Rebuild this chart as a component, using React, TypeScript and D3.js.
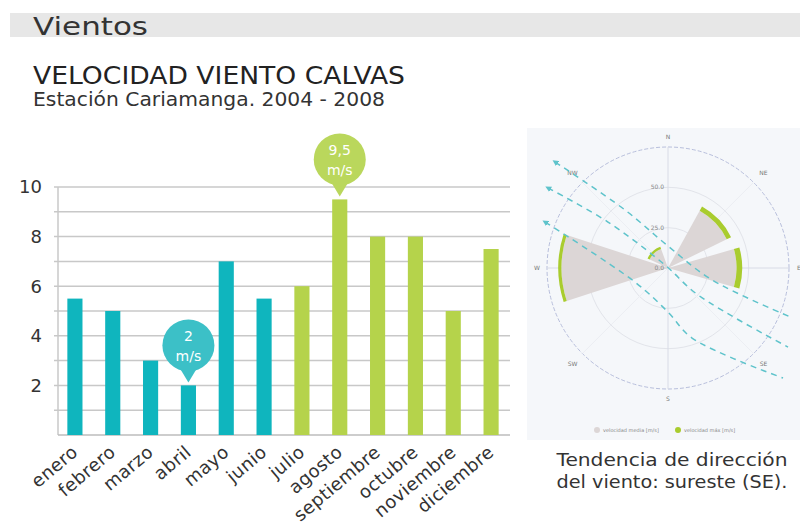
import React from "react";
import * as d3 from "d3";

// monthly mean wind speed, Calvas (Cariamanga station) 2004-2008
const months = [
  "enero", "febrero", "marzo", "abril", "mayo", "junio",
  "julio", "agosto", "septiembre", "octubre", "noviembre", "diciembre",
];
const speeds = [5.5, 5, 3, 2, 7, 5.5, 6, 9.5, 8, 8, 5, 7.5];
const yTicks = [2, 4, 6, 8, 10];
const gridValues = [1, 2, 3, 4, 5, 6, 7, 8, 9, 10];
const callouts = [
  { month: "abril", label: ["2", "m/s"] },
  { month: "agosto", label: ["9,5", "m/s"] },
];

// wind rose sectors: compass start/end (deg), calm part and max part
const roseStart = [252, 29, 74, 295];
const roseEnd = [288, 64, 106, 340];
const roseCalm = [66, 40.5, 42.5, 12.5];
const roseMax = [68, 43.5, 46, 14];
const roseRings = [25, 50, 75];
const roseRingLabels = ["0.0", "25.0", "50.0"];
const roseDirLabels = ["N", "NE", "E", "SE", "S", "SW", "W", "NW"];
// dashed trend arrows, points in rose units [east, north]
const trendLines = [
  [[-70, 65.7], [-26.7, 36], [0, 13.6], [27.3, -7.4], [77.5, -31]],
  [[-74.4, 49.6], [-37.2, 28.5], [-1.9, 1.9], [18.6, -16.7], [74.4, -49]],
  [[-76.2, 28.5], [-20.5, -8.7], [0, -27.3], [14.9, -43.4], [71.3, -68.2]],
];

const FONT = "'DejaVu Sans', sans-serif";
const TEAL = "#0fb5be";
const GREEN = "#b5d34b";

export default function App() {
  const width = 800;
  const height = 530;

  const x = d3.scaleBand<string>().domain(months).range([56, 510]).paddingInner(0.6).paddingOuter(0.3);
  const y = d3.scaleLinear().domain([0, 10]).range([435, 187]);

  // rose
  const cx = 668;
  const cy = 268;
  const r = d3.scaleLinear().domain([0, 75]).range([0, 121]);
  const rad = (deg: number) => (deg * Math.PI) / 180;
  const arc = d3.arc<any>();
  const line = d3
    .line<number[]>()
    .x((d) => r(d[0]))
    .y((d) => -r(d[1]))
    .curve(d3.curveCatmullRom);

  return (
    <svg width={width} height={height} style={{ display: "block", position: "absolute", left: 0, top: 0 }}>
      <rect width={width} height={height} fill="#fff" />
      {/* header */}
      <rect x={10} y={13} width={790} height={24} fill="#e7e7e7" />
      <text x={33} y={35} fontFamily={FONT} fontSize={25} fill="#333" textLength={115} lengthAdjust="spacingAndGlyphs">
        Vientos
      </text>
      <text x={33} y={84} fontFamily={FONT} fontSize={25} fill="#222" textLength={372} lengthAdjust="spacingAndGlyphs">
        VELOCIDAD VIENTO CALVAS
      </text>
      <text x={33} y={106} fontFamily={FONT} fontSize={19} fill="#333" textLength={352} lengthAdjust="spacingAndGlyphs">
        Estación Cariamanga. 2004 - 2008
      </text>

      {/* bar chart grid */}
      {gridValues.map((v) => (
        <line key={v} x1={54} x2={510} y1={y(v)} y2={y(v)} stroke="#c8c8c8" strokeWidth={1.5} />
      ))}
      <line x1={58} x2={58} y1={y(10)} y2={y(0)} stroke="#c8c8c8" strokeWidth={1.5} />
      <line x1={58} x2={510} y1={y(0)} y2={y(0)} stroke="#bdbdbd" strokeWidth={1.5} />
      {yTicks.map((t) => (
        <text key={t} x={42} y={y(t)} dy="0.35em" textAnchor="end" fontFamily={FONT} fontSize={18} fill="#333">
          {t}
        </text>
      ))}

      {/* bars */}
      {months.map((m, i) => (
        <rect
          key={m}
          x={x(m)}
          y={y(speeds[i])}
          width={x.bandwidth()}
          height={y(0) - y(speeds[i])}
          fill={i < 6 ? TEAL : GREEN}
        />
      ))}

      {/* month labels */}
      {months.map((m) => {
        const px = (x(m) as number) + x.bandwidth() / 2 + 4;
        const py = 454;
        return (
          <text
            key={m}
            x={px}
            y={py}
            transform={`rotate(-40,${px},${py})`}
            textAnchor="end"
            fontFamily={FONT}
            fontSize={18}
            letterSpacing={0.4}
            fill="#333"
          >
            {m}
          </text>
        );
      })}

      {/* callouts */}
      {callouts.map((c) => {
        const i = months.indexOf(c.month);
        const bx = (x(c.month) as number) + x.bandwidth() / 2;
        const tip = y(speeds[i]) - 3;
        const ccy = tip - 37;
        const col = i < 6 ? "#3cc0c7" : "#bad75c";
        return (
          <g key={c.month}>
            <circle cx={bx} cy={ccy} r={26} fill={col} />
            <path d={`M${bx - 9},${ccy + 22} L${bx},${tip} L${bx + 9},${ccy + 22} Z`} fill={col} />
            <text x={bx} y={ccy - 4} textAnchor="middle" fontFamily={FONT} fontSize={14} fill="#fff">
              {c.label[0]}
            </text>
            <text x={bx} y={ccy + 16} textAnchor="middle" fontFamily={FONT} fontSize={14} fill="#fff">
              {c.label[1]}
            </text>
          </g>
        );
      })}

      {/* wind rose panel */}
      <rect x={527} y={128} width={273} height={312} fill="#f5f7fa" />
      <defs>
        <marker id="arrowHead" viewBox="0 0 10 10" refX={5} refY={5} markerWidth={4} markerHeight={4} orient="auto-start-reverse">
          <path d="M0,0 L10,5 L0,10 Z" fill="#5ec3cb" />
        </marker>
      </defs>
      <g transform={`translate(${cx},${cy})`}>
        {roseRings.map((v, i) => (
          <circle
            key={v}
            r={r(v)}
            fill="none"
            stroke={i === roseRings.length - 1 ? "#b8bfdc" : "#e2e4ea"}
            strokeWidth={1}
            strokeDasharray={i === roseRings.length - 1 ? "4 2" : undefined}
          />
        ))}
        {roseDirLabels.map((d, i) => {
          const a = rad(i * 45);
          return (
            <line
              key={d}
              x1={0}
              y1={0}
              x2={r(75) * Math.sin(a)}
              y2={-r(75) * Math.cos(a)}
              stroke={i % 2 === 0 ? "#d8dbe6" : "#eceef3"}
              strokeWidth={1}
            />
          );
        })}
        {roseStart.map((s, i) => (
          <g key={i}>
            <path
              d={arc({ innerRadius: 0, outerRadius: r(roseCalm[i]), startAngle: rad(s), endAngle: rad(roseEnd[i]) }) as string}
              fill="#dcd6d6"
            />
            <path
              d={arc({ innerRadius: r(roseCalm[i]), outerRadius: r(roseMax[i]), startAngle: rad(s), endAngle: rad(roseEnd[i]) }) as string}
              fill="#a9cc2e"
            />
          </g>
        ))}
        {roseRings.map((v, i) => (
          <text key={v} x={-4} y={-r(v - 25)} dy="0.35em" textAnchor="end" fontFamily={FONT} fontSize={6} fill="#888">
            {roseRingLabels[i]}
          </text>
        ))}
        {roseDirLabels.map((d, i) => {
          const a = rad(i * 45);
          const rr = r(75) + (i % 2 === 0 ? 10 : 14);
          return (
            <text
              key={d}
              x={rr * Math.sin(a)}
              y={-rr * Math.cos(a)}
              dy="0.35em"
              textAnchor="middle"
              fontFamily={FONT}
              fontSize={6}
              fill="#777"
            >
              {d}
            </text>
          );
        })}
        {trendLines.map((pts, i) => (
          <path
            key={i}
            d={line(pts as number[][]) as string}
            fill="none"
            stroke="#5ec3cb"
            strokeWidth={1.5}
            strokeDasharray="6 5"
            markerStart="url(#arrowHead)"
          />
        ))}
      </g>
      {/* rose legend */}
      <circle cx={597} cy={430} r={3} fill="#dcd6d6" />
      <text x={603} y={432} fontFamily={FONT} fontSize={5} fill="#888">velocidad media [m/s]</text>
      <circle cx={678} cy={430} r={3} fill="#a9cc2e" />
      <text x={684} y={432} fontFamily={FONT} fontSize={5} fill="#888">velocidad máx [m/s]</text>

      {/* caption */}
      <text x={672} y={466} textAnchor="middle" fontFamily={FONT} fontSize={18} fill="#333" textLength={231} lengthAdjust="spacingAndGlyphs">
        Tendencia de dirección
      </text>
      <text x={672} y={488} textAnchor="middle" fontFamily={FONT} fontSize={18} fill="#333" textLength={231} lengthAdjust="spacingAndGlyphs">
        del viento: sureste (SE).
      </text>
    </svg>
  );
}
